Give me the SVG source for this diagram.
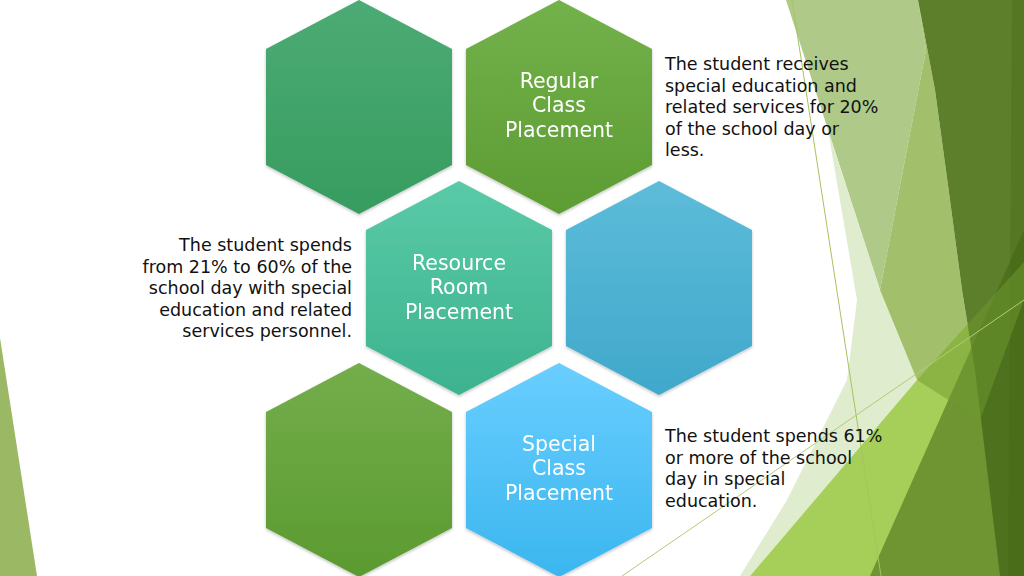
<svg xmlns="http://www.w3.org/2000/svg" width="1024" height="576" viewBox="0 0 1024 576">
<defs>
<linearGradient id="gTL" x1="0" y1="0" x2="0" y2="1"><stop offset="0" stop-color="#4cab74"/><stop offset="1" stop-color="#379c5f"/></linearGradient>
<linearGradient id="gReg" x1="0" y1="0" x2="0" y2="1"><stop offset="0" stop-color="#73b14b"/><stop offset="1" stop-color="#5d9c33"/></linearGradient>
<linearGradient id="gRes" x1="0" y1="0" x2="0" y2="1"><stop offset="0" stop-color="#5acaa7"/><stop offset="1" stop-color="#3db28e"/></linearGradient>
<linearGradient id="gBlue" x1="0" y1="0" x2="0" y2="1"><stop offset="0" stop-color="#5dbcd9"/><stop offset="1" stop-color="#40a8cb"/></linearGradient>
<linearGradient id="gBL" x1="0" y1="0" x2="0" y2="1"><stop offset="0" stop-color="#74ae4c"/><stop offset="1" stop-color="#5b9a30"/></linearGradient>
<linearGradient id="gSp" x1="0" y1="0" x2="0" y2="1"><stop offset="0" stop-color="#69ceff"/><stop offset="1" stop-color="#3bb6ef"/></linearGradient>
<filter id="sh" x="-10%" y="-10%" width="120%" height="120%"><feDropShadow dx="0" dy="1.5" stdDeviation="1.5" flood-color="#000" flood-opacity="0.25"/></filter>
</defs>
<style>
.hl{font-family:"DejaVu Sans",sans-serif;font-size:20.5px;fill:#ffffff;text-anchor:middle}
.bt{font-family:"DejaVu Sans",sans-serif;font-size:17.5px;fill:#111111}
.hex{filter:url(#sh)}
</style>
<rect width="1024" height="576" fill="#ffffff"/>
<g id="background">
<polygon points="0,338 37,576 0,576" fill="#9bb865"/>
<polygon points="786,0 918,0 926,50 880,290" fill="#afc988"/>
<polygon points="828,130 880,290 917,380 750,576 740,576 787,500 847,380 857,300" fill="#dfecce"/>
<polygon points="918,0 926,50 880,290 917,380 975,370 962,290 950,200 935,90" fill="#a2c06b"/>
<polygon points="750,576 917,380 1024,262 1024,576" fill="#a6cf5a"/>
<polygon points="918,0 1024,0 1024,576 1000,576 975,370 962,290 950,200 935,90" fill="#5d7f2b"/>
<polygon points="1012,0 1024,0 1024,576 1008,576" fill="#557723"/>
<polygon points="870,576 1024,576 1024,230" fill="#3f6612" fill-opacity="0.55"/>
<polygon points="917,380 1024,262 1024,300 980,420" fill="#6f9a30" fill-opacity="0.5"/>
<line x1="792" y1="0" x2="881" y2="576" stroke="#a6c35e" stroke-width="1"/>
<line x1="622" y1="576" x2="1024" y2="300" stroke="#b3cb78" stroke-width="1"/>
</g>
<g id="hex-top-left" class="hex"><polygon points="359,0 452,49 452,165 359,214 266,165 266,49" fill="url(#gTL)"/></g>
<g id="hex-regular" class="hex"><polygon points="559,0 652,49 652,165 559,214 466,165 466,49" fill="url(#gReg)"/>
<text class="hl" x="559" y="88">Regular</text><text class="hl" x="559" y="112">Class</text><text class="hl" x="559" y="137">Placement</text></g>
<g id="hex-resource" class="hex"><polygon points="459,181 552,230 552,346 459,395 366,346 366,230" fill="url(#gRes)"/>
<text class="hl" x="459" y="270">Resource</text><text class="hl" x="459" y="294">Room</text><text class="hl" x="459" y="319">Placement</text></g>
<g id="hex-blue" class="hex"><polygon points="659,181 752,230 752,346 659,395 566,346 566,230" fill="url(#gBlue)"/></g>
<g id="hex-bottom-left" class="hex"><polygon points="359,363 452,412 452,528 359,577 266,528 266,412" fill="url(#gBL)"/></g>
<g id="hex-special" class="hex"><polygon points="559,363 652,412 652,528 559,577 466,528 466,412" fill="url(#gSp)"/>
<text class="hl" x="559" y="451">Special</text><text class="hl" x="559" y="475">Class</text><text class="hl" x="559" y="500">Placement</text></g>
<g id="text-regular">
<text class="bt" x="665" y="70">The student receives</text>
<text class="bt" x="665" y="91.5">special education and</text>
<text class="bt" x="665" y="113">related services for 20%</text>
<text class="bt" x="665" y="134.5">of the school day or</text>
<text class="bt" x="665" y="156">less.</text>
</g>
<g id="text-resource" style="text-anchor:end">
<text class="bt" x="352" y="251">The student spends</text>
<text class="bt" x="352" y="272.5">from 21% to 60% of the</text>
<text class="bt" x="352" y="294">school day with special</text>
<text class="bt" x="352" y="315.5">education and related</text>
<text class="bt" x="352" y="337">services personnel.</text>
</g>
<g id="text-special">
<text class="bt" x="665" y="442">The student spends 61%</text>
<text class="bt" x="665" y="463.5">or more of the school</text>
<text class="bt" x="665" y="485">day in special</text>
<text class="bt" x="665" y="506.5">education.</text>
</g>
<g id="connectors"/>
</svg>
